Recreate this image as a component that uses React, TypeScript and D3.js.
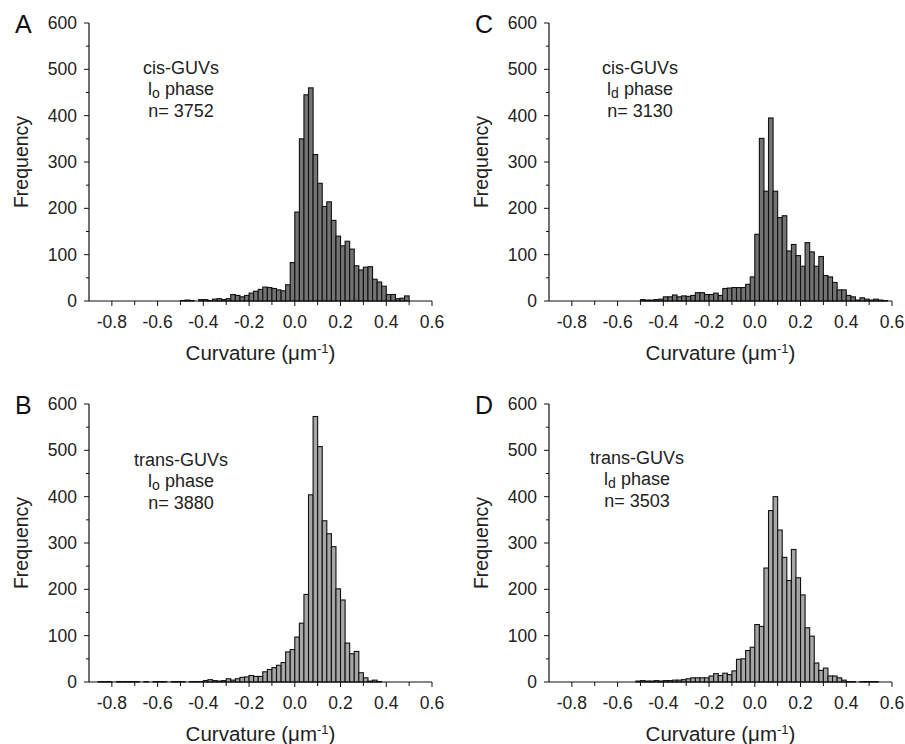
import * as d3 from "d3";

// histogram data, bin width 0.02 (curvature, um^-1), counts
const binWidth = 0.02;

const cisLoStart = -0.5;
const cisLoCounts = [
  1, 2, 1, 0, 3, 3, 1, 4, 5, 3, 5, 14, 12, 9, 12, 17, 21, 25, 30, 29, 27, 24, 22, 35, 83,
  192, 350, 445, 460, 316, 254, 204, 214, 174, 140, 119, 129, 112, 76, 67, 73, 74, 47, 41, 32, 14, 14, 5, 6, 11,
];

const cisLdStart = -0.5;
const cisLdCounts = [
  3, 2, 2, 3, 4, 9, 9, 13, 9, 11, 10, 12, 18, 18, 14, 14, 17, 12, 27, 28, 29, 29, 29, 36, 52,
  144, 351, 237, 395, 237, 180, 184, 108, 122, 98, 75, 126, 106, 75, 96, 55, 52, 40, 24, 24, 12, 9, 2, 7, 4, 2, 4, 2, 1,
];

const transLoStart = -0.86;
const transLoCounts = [
  1, 1, 1, 0, 1, 1, 1, 1, 1, 0, 1, 0, 1, 1, 1, 0, 1, 1, 1, 0, 1, 1, 1, 3, 5, 3, 2, 3, 7, 4, 7, 10, 11, 14, 12, 12, 22, 27, 31, 36, 42, 65, 70,
  97, 127, 189, 404, 573, 508, 348, 320, 292, 201, 177, 84, 61, 66, 20, 9, 2, 4, 1,
];

const transLdStart = -0.52;
const transLdCounts = [
  2, 3, 2, 2, 3, 2, 3, 3, 4, 4, 5, 7, 9, 9, 9, 9, 13, 18, 14, 19, 16, 24, 49, 50, 68, 75,
  124, 120, 246, 370, 400, 328, 269, 219, 286, 225, 188, 117, 99, 41, 25, 30, 13, 13, 9, 4, 1, 1, 0, 1, 1, 1, 1,
];

const xDomain = [-0.9, 0.6];
const yDomain = [0, 600];
const xMajor = [-0.8, -0.6, -0.4, -0.2, 0, 0.2, 0.4, 0.6];
const xMinor = [-0.7, -0.5, -0.3, -0.1, 0.1, 0.3, 0.5];
const yMajor = [0, 100, 200, 300, 400, 500, 600];
const yMinor = [50, 150, 250, 350, 450, 550];

const font = "'Liberation Sans', Arial, Helvetica, sans-serif";
const plotW = 343;
const plotH = 278;

const panels = [
  { letter: "A", counts: cisLoCounts, start: cisLoStart, name: "cis-GUVs", phase: "o", n: "3752",
    left: 89, bottom: 301, fill: "#737373", noteX: 181, noteY: 74 },
  { letter: "C", counts: cisLdCounts, start: cisLdStart, name: "cis-GUVs", phase: "d", n: "3130",
    left: 549, bottom: 301, fill: "#737373", noteX: 640, noteY: 74 },
  { letter: "B", counts: transLoCounts, start: transLoStart, name: "trans-GUVs", phase: "o", n: "3880",
    left: 89, bottom: 682, fill: "#a6a6a6", noteX: 181, noteY: 466 },
  { letter: "D", counts: transLdCounts, start: transLdStart, name: "trans-GUVs", phase: "d", n: "3503",
    left: 549, bottom: 682, fill: "#a6a6a6", noteX: 637, noteY: 464 },
];

function Panel({ p }) {
  const x = d3.scaleLinear().domain(xDomain).range([p.left, p.left + plotW]);
  const y = d3.scaleLinear().domain(yDomain).range([p.bottom, p.bottom - plotH]);
  const bw = x(binWidth) - x(0);
  const midX = (x(xDomain[0]) + x(xDomain[1])) / 2;
  const midY = (y(0) + y(600)) / 2;

  return (
    <g>
      {/* bars */}
      {p.counts.map((c, i) => {
        const x0 = x(p.start + i * binWidth);
        return (
          <rect key={i} x={x0} y={y(c)} width={bw} height={y(0) - y(c)}
            fill={p.fill} stroke="#111" strokeWidth={1.1} />
        );
      })}

      {/* axes */}
      <line x1={x(-0.9)} x2={x(0.6)} y1={y(0)} y2={y(0)} stroke="#111" strokeWidth={1.2} />
      <line x1={x(-0.9)} x2={x(-0.9)} y1={y(0)} y2={y(600)} stroke="#111" strokeWidth={1.2} />
      {xMajor.map((t) => (
        <g key={"xm" + t}>
          <line x1={x(t)} x2={x(t)} y1={y(0)} y2={y(0) + 5} stroke="#111" />
          <text x={x(t)} y={y(0) + 27} textAnchor="middle" fontSize={17.5} fill="#222">
            {t.toFixed(1)}
          </text>
        </g>
      ))}
      {xMinor.map((t) => (
        <line key={"xn" + t} x1={x(t)} x2={x(t)} y1={y(0)} y2={y(0) + 4} stroke="#111" />
      ))}
      {yMajor.map((t) => (
        <g key={"ym" + t}>
          <line x1={x(-0.9) - 5} x2={x(-0.9)} y1={y(t)} y2={y(t)} stroke="#111" />
          <text x={x(-0.9) - 12} y={y(t) + 6} textAnchor="end" fontSize={17.5} fill="#222">
            {t}
          </text>
        </g>
      ))}
      {yMinor.map((t) => (
        <line key={"yn" + t} x1={x(-0.9) - 3} x2={x(-0.9)} y1={y(t)} y2={y(t)} stroke="#111" />
      ))}

      {/* axis titles */}
      <text transform={`translate(${p.left - 61},${midY}) rotate(-90)`} textAnchor="middle"
        fontSize={19.5} fill="#222">
        Frequency
      </text>
      <text x={midX} y={p.bottom + 59} textAnchor="middle" fontSize={20.5} fill="#222">
        Curvature (μm<tspan dy={-7} fontSize={13}>-1</tspan><tspan dy={7}>)</tspan>
      </text>

      {/* panel letter */}
      <text x={p.left - 74} y={p.bottom - 268} fontSize={25} fill="#111">{p.letter}</text>

      {/* annotation */}
      <g fontSize={18} fill="#222" textAnchor="middle">
        <text x={p.noteX} y={p.noteY}>{p.name}</text>
        <text x={p.noteX} y={p.noteY + 21}>
          l<tspan dy={3} fontSize={14}>{p.phase}</tspan><tspan dy={-3}> phase</tspan>
        </text>
        <text x={p.noteX} y={p.noteY + 43}>n= {p.n}</text>
      </g>
    </g>
  );
}

export default function App() {
  return (
    <svg width={905} height={744} style={{ position: "absolute", left: 0, top: 0, background: "#fff" }}
      fontFamily={font}>
      {panels.map((p) => (
        <Panel key={p.letter} p={p} />
      ))}
    </svg>
  );
}
